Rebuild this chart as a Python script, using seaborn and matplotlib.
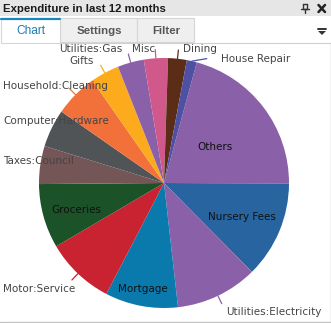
import matplotlib
matplotlib.use("Agg")
import matplotlib.pyplot as plt
import seaborn as sns
import numpy as np
from matplotlib.patches import Rectangle, Polygon
from matplotlib.lines import Line2D

# ---- data -------------------------------------------------------------
categories = ["Others", "Nursery Fees", "Utilities:Electricity", "Mortgage",
              "Motor:Service", "Groceries", "Taxes:Council", "Computer:Hardware",
              "Household:Cleaning", "Gifts", "Utilities:Gas", "Misc", "Dining",
              "House Repair"]
amounts = [20.8, 12.5, 10.6, 9.4, 8.9, 8.3, 4.9, 4.9, 5.6, 3.7, 3.4, 3.1, 2.4, 1.3]
slice_colors = ["#8a60a8", "#2864a0", "#8a60a8", "#0a7aad", "#c92231", "#1b5228",
                "#745656", "#505456", "#f2713a", "#fcab1c", "#8a60a8", "#d0588a",
                "#5b2d16", "#5050a2"]
inside_labels = ["Others", "Nursery Fees", "Mortgage", "Groceries"]

title_text = "Expenditure in last 12 months"
tab_names = ["Chart", "Settings", "Filter"]

# ---- layout (pixels, origin top-left) ---------------------------------
W, H = 331, 323
CX, CY, R = 164, 183, 125
label_pos = {
    "Others": (215, 147, "center"),
    "Nursery Fees": (242, 217, "center"),
    "Mortgage": (143, 289, "center"),
    "Groceries": (76, 210, "center"),
    "Utilities:Gas": (59, 49, "left"),
    "Misc": (132, 49, "left"),
    "Gifts": (69, 61, "left"),
    "Dining": (183, 49, "left"),
    "House Repair": (221, 59, "left"),
    "Household:Cleaning": (3, 86, "left"),
    "Computer:Hardware": (3, 121, "left"),
    "Taxes:Council": (3, 161, "left"),
    "Motor:Service": (3, 289, "left"),
    "Utilities:Electricity": (226, 312, "left"),
}
ticked = ["Utilities:Gas", "Misc", "Gifts", "Dining", "Motor:Service",
          "Utilities:Electricity", "Household:Cleaning"]

sns.set_theme(style="white")
plt.rcParams["font.family"] = ["DejaVu Sans"]

fig = plt.figure(figsize=(W / 100, H / 100), dpi=100)
fig.patch.set_facecolor("white")


def fx(x):
    return x / W


def fy(y):
    return 1 - y / H


def rect(x0, y0, x1, y1, face, edge="none", lw=0.0):
    fig.add_artist(Rectangle((fx(x0), fy(y1)), (x1 - x0) / W, (y1 - y0) / H,
                             facecolor=face, edgecolor=edge, linewidth=lw,
                             transform=fig.transFigure))


def line(xs, ys, color, lw=1.0):
    fig.add_artist(Line2D([fx(x) for x in xs], [fy(y) for y in ys], color=color,
                          linewidth=lw, transform=fig.transFigure))


# ---- panel chrome -----------------------------------------------------
rect(0, 0, W, 16, "#e6e6e6")
fig.text(fx(3), fy(8.5), title_text, ha="left", va="center", fontsize=8.2,
         fontweight="bold", color="#1a1a1a", family="Liberation Sans")
# pin icon
line([302.5, 302.5, 306.5, 306.5], [4, 9, 9, 4], "#333333", 1.0)
line([300.5, 308.5], [9, 9], "#333333", 1.0)
line([304.5, 304.5], [9, 13], "#333333", 1.0)
line([302.5, 306.5], [4, 4], "#333333", 1.0)
# close icon
line([318.5, 325], [5, 12], "#222222", 1.8)
line([318.5, 325], [12, 5], "#222222", 1.8)

# tab strip
rect(0, 17, W, 42, "white")
rect(60, 18, 137, 42, "#efefef", "#d6d6d6", 0.8)
rect(137, 18, 194, 42, "#efefef", "#d6d6d6", 0.8)
rect(1, 18, 60, 43, "white", "#d6d6d6", 0.8)
line([1, 60], [19, 19], "#1b87c0", 1.6)
line([60, W], [42.5, 42.5], "#cfcfcf", 0.8)
tab_x = [31, 99, 166]
for i, (name, x) in enumerate(zip(tab_names, tab_x)):
    fig.text(fx(x), fy(31), name, ha="center", va="center",
             fontsize=8.6 if i == 0 else 8.2,
             color="#1a7db8" if i == 0 else "#555555", family="Liberation Sans",
             fontweight="bold" if i > 0 else "normal")
# menu icon
line([318, 326], [28.5, 28.5], "#333333", 1.4)
fig.add_artist(Polygon([(fx(318), fy(31)), (fx(326), fy(31)), (fx(322), fy(35))],
                       closed=True, facecolor="#333333", edgecolor="none",
                       transform=fig.transFigure))

# content border
line([W - 0.5, W - 0.5], [42, H - 1.5], "#c4c4c4", 1.0)
line([0, W - 0.5], [H - 1.5, H - 1.5], "#c4c4c4", 1.0)

# ---- pie --------------------------------------------------------------
ax = fig.add_axes([fx(CX - R), fy(CY + R), 2 * R / W, 2 * R / H])
wedges, _ = ax.pie(amounts, colors=slice_colors, startangle=74.8,
                   counterclock=False, radius=1.0,
                   wedgeprops=dict(linewidth=0, antialiased=True))
ax.set_xlim(-1, 1)
ax.set_ylim(-1, 1)
ax.set_aspect("equal")
ax.axis("off")

for cat, w in zip(categories, wedges):
    mid = np.deg2rad((w.theta1 + w.theta2) / 2)
    if cat in ticked:
        ax.plot([np.cos(mid), 1.07 * np.cos(mid)], [np.sin(mid), 1.07 * np.sin(mid)],
                color=w.get_facecolor(), linewidth=0.9, clip_on=False)
    if cat == "House Repair":
        x0, y0 = np.cos(mid), np.sin(mid)
        ax.plot([x0, x0 + 0.12], [y0, y0 + 0.02], color=w.get_facecolor(),
                linewidth=0.9, clip_on=False)

for cat in categories:
    x, y, ha = label_pos[cat]
    inside = cat in inside_labels
    fig.text(fx(x), fy(y), cat, ha=ha, va="center", fontsize=7.5,
             color="#111111" if inside else "#444444")

fig.savefig("out.png", dpi=100)
